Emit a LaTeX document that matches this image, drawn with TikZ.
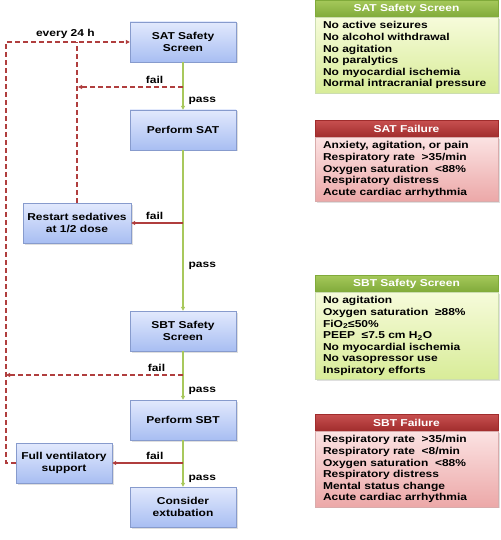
\documentclass[tikz,border=0pt]{standalone}
\usepackage{fontspec}
\setmainfont[FakeStretch=1.2]{Liberation Sans}
\usetikzlibrary{arrows.meta,shadows,positioning}

\definecolor{stepborder}{RGB}{135,155,205}
\definecolor{steptop}{RGB}{226,233,253}
\definecolor{stepbot}{RGB}{168,190,242}
\definecolor{passgreen}{RGB}{168,200,92}
\definecolor{failred}{RGB}{176,62,62}
\definecolor{okhead}{RGB}{128,170,58}
\definecolor{okheadtop}{RGB}{165,200,90}
\definecolor{okbodytop}{RGB}{246,251,218}
\definecolor{okbodybot}{RGB}{216,236,152}
\definecolor{badhead}{RGB}{160,44,44}
\definecolor{badheadtop}{RGB}{200,80,80}
\definecolor{badbodytop}{RGB}{251,226,226}
\definecolor{badbodybot}{RGB}{236,168,168}

\begin{document}
\begin{tikzpicture}[
    x=1pt, y=-1pt,
    every node/.style={font=\fontsize{10}{11.6}\selectfont\bfseries},
    stepbox/.style={draw=stepborder, top color=steptop, bottom color=stepbot,
        minimum width=106pt, minimum height=40pt, align=center,
        drop shadow={opacity=0.25, shadow xshift=1.5pt, shadow yshift=-1.5pt}},
    headbox/.style={minimum width=183pt, minimum height=17pt, inner sep=1pt,
        text=white, anchor=north},
    okhd/.style={headbox, top color=okheadtop, bottom color=okhead, draw=okhead},
    badhd/.style={headbox, top color=badheadtop, bottom color=badhead, draw=badhead},
    listbox/.style={text width=167pt, inner xsep=8pt, inner ysep=4pt,
        align=left, anchor=north,
        drop shadow={opacity=0.25, shadow xshift=1.5pt, shadow yshift=-1.5pt}},
    okbd/.style={listbox, top color=okbodytop, bottom color=okbodybot, draw=okhead!40},
    badbd/.style={listbox, top color=badbodytop, bottom color=badbodybot, draw=badhead!40},
    pass/.style={draw=passgreen, line width=1.3pt, -{Triangle[length=4pt,width=4pt]}},
    fail/.style={draw=failred, line width=1.1pt, -{Triangle[length=4pt,width=4pt]}},
    loop/.style={draw=failred, line width=1.1pt, dash pattern=on 5pt off 3pt},
    lbl/.style={inner sep=1pt}
  ]

\useasboundingbox (0,0) rectangle (500,540);

% steps of the protocol
\node[stepbox] (satscr)   at (183,42)  {SAT Safety\\Screen};
\node[stepbox] (dosat)    at (183,130) {Perform SAT};
\node[stepbox, minimum width=108pt] (restart) at (77,223) {Restart sedatives\\at 1/2 dose};
\node[stepbox] (sbtscr)   at (183,331) {SBT Safety\\Screen};
\node[stepbox] (dosbt)    at (183,420) {Perform SBT};
\node[stepbox, minimum width=96pt] (fullvent) at (64,463) {Full ventilatory\\support};
\node[stepbox] (extub)    at (183,507) {Consider\\extubation};

% points on the main line
\coordinate (satscrfail) at (183,87);
\coordinate (satfail)    at (dosat.south |- restart.east);
\coordinate (sbtscrfail) at (183,375);
\coordinate (sbtfail)    at (dosbt.south |- fullvent.east);
\coordinate (rail)       at (6,42);
\coordinate (railsbt)    at (6,375);
\coordinate (midrail)    at (78,87);

% pass
\draw[pass] (satscr) -- node[lbl, right=4pt, pos=0.82] {pass} (dosat);
\draw[pass] (dosat) -- node[lbl, right=4pt, pos=0.72] {pass} (sbtscr);
\draw[pass] (sbtscr) -- node[lbl, right=4pt, pos=0.82] {pass} (dosbt);
\draw[pass] (dosbt) -- node[lbl, right=4pt, pos=0.82] {pass} (extub);

% fail
\draw[fail] (satfail) -- node[lbl, above=2pt, pos=0.55] {fail} (restart.east);
\draw[fail] (sbtfail) -- node[lbl, above=2pt, pos=0.4] {fail} (fullvent.east);

% loops back to the start
\draw[loop, -{Triangle[length=4pt,width=4pt]}] (satscrfail)
    -- node[lbl, above=2pt, pos=0.27] {fail} (midrail);
\draw[loop] (restart.north) -- (restart.north |- satscr.west);
\draw[loop, -{Triangle[length=4pt,width=4pt]}] (fullvent.west) -| (rail)
    -- node[lbl, above=2pt, pos=0.48] {every 24 h} (satscr.west);
\draw[loop, -{Triangle[length=4pt,width=4pt]}] (sbtscrfail)
    -- node[lbl, above=2pt, pos=0.15] {fail} (railsbt);

% criteria
\node[okhd] (satokhd) at (406.5,0) {SAT Safety Screen};
\node[okbd] (satok) at (satokhd.south) {No active seizures\\No alcohol withdrawal\\No agitation\\No paralytics\\No myocardial ischemia\\Normal intracranial pressure};

\node[badhd] (satbadhd) at (406.5,120) {SAT Failure};
\node[badbd] (satbad) at (satbadhd.south) {Anxiety, agitation, or pain\\Respiratory rate\ \ >35/min\\Oxygen saturation\ \ <88\%\\Respiratory distress\\Acute cardiac arrhythmia};

\node[okhd] (sbtokhd) at (406.5,275) {SBT Safety Screen};
\node[okbd] (sbtok) at (sbtokhd.south) {No agitation\\Oxygen saturation\ \ ≥88\%\\FiO\textsubscript{2}≤50\%\\PEEP\ \ ≤7.5 cm H\textsubscript{2}O\\No myocardial ischemia\\No vasopressor use\\Inspiratory efforts};

\node[badhd] (sbtbadhd) at (406.5,414) {SBT Failure};
\node[badbd] (sbtbad) at (sbtbadhd.south) {Respiratory rate\ \ >35/min\\Respiratory rate\ \ <8/min\\Oxygen saturation\ \ <88\%\\Respiratory distress\\Mental status change\\Acute cardiac arrhythmia};

\end{tikzpicture}
\end{document}
